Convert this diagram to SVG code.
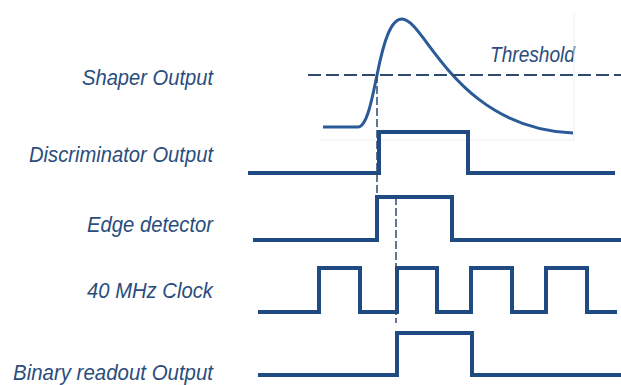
<svg xmlns="http://www.w3.org/2000/svg" width="621" height="385" viewBox="0 0 621 385">
<style>
.lbl{font-family:"Liberation Sans",Arial,sans-serif;font-style:italic;font-size:22.5px;fill:#2a4d7c}
.sig{fill:none;stroke:#1f4a82;stroke-width:4}
.curve{fill:none;stroke:#2a5a98;stroke-width:3}
.thr{fill:none;stroke:#2d4a70;stroke-width:2;stroke-dasharray:13 5}
.vd{fill:none;stroke:#2d4a70;stroke-width:1.5;stroke-dasharray:8 3}
.frame{fill:none;stroke:#ececec;stroke-width:1}
</style>
<rect width="621" height="385" fill="#ffffff"/>
<g id="labels">
<text class="lbl" x="82" y="85" textLength="131" lengthAdjust="spacingAndGlyphs">Shaper Output</text>
<text class="lbl" x="29" y="162" textLength="184" lengthAdjust="spacingAndGlyphs">Discriminator Output</text>
<text class="lbl" x="87" y="232" textLength="126" lengthAdjust="spacingAndGlyphs">Edge detector</text>
<text class="lbl" x="87" y="298" textLength="126" lengthAdjust="spacingAndGlyphs">40 MHz Clock</text>
<text class="lbl" x="13" y="380" textLength="200" lengthAdjust="spacingAndGlyphs">Binary readout Output</text>
<text class="lbl" x="490" y="62" textLength="85" lengthAdjust="spacingAndGlyphs">Threshold</text>
</g>
<g id="frame">
<path class="frame" d="M574,13 V140 M320,140 H574"/>
</g>
<g id="shaper">
<path class="curve" d="M323,127 L358,127 C366,127 371,105 377,75 C384,40 391,19 402,19 C425,19 455,128 573,133"/>
</g>
<g id="threshold">
<path class="thr" d="M308,75 H621"/>
</g>
<g id="discriminator">
<path class="sig" d="M248,173 H379 V132 H468 V173 H615"/>
</g>
<g id="edge">
<path class="sig" d="M253,240 H377 V197 H452 V240 H621"/>
</g>
<g id="clock">
<path class="sig" d="M258,312 H319 V268 H360 V312 H397 V268 H437 V312 H471 V268 H512 V312 H546 V268 H587 V312 H617"/>
</g>
<g id="binary">
<path class="sig" d="M258,375 H397 V333 H472 V375 H621"/>
</g>
<g id="connectors">
<path class="vd" d="M377,75 V195"/>
<path class="vd" d="M396,197 V323"/>
</g>
</svg>
